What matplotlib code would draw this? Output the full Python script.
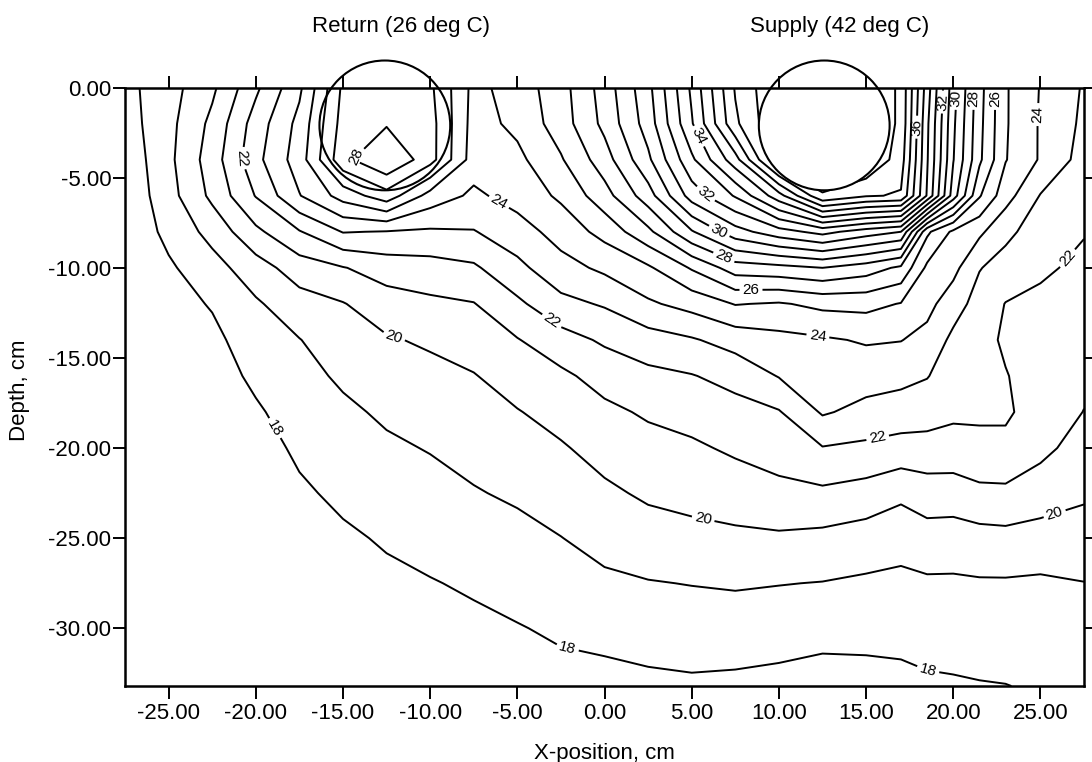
import matplotlib
matplotlib.use("Agg")
import matplotlib.pyplot as plt
import numpy as np
from matplotlib.patches import Ellipse
from matplotlib.ticker import FuncFormatter

# Measurement grid: horizontal position (cm) and depth (cm)
X_POS = [-27.5, -25, -22.5, -20, -17.5, -15, -12.5, -10, -7.5, -5, -2.5, 0,
         2.5, 5, 7.5, 10, 12.5, 15, 17, 18.5, 20, 21.5, 23, 25, 27.5]
DEPTH = [0, -2, -4, -6, -8, -10, -12, -14, -16, -18, -20, -22.5, -25, -27.5,
         -30, -33.2]

# Soil temperature (deg C), one row per depth
TEMP = [
    [17.7, 18.6, 19.8, 21.8, 23.8, 27.2, 27.4, 27.2, 24.7, 25.45, 26.6, 28.45, 30.7, 34.2, 38.1, 40, 40, 40, 38.8, 34.5, 30.4, 27.4, 25.1, 23.95, 22.9],
    [17.55, 18.7, 20.25, 22.45, 24.3, 27.4, 27.9, 27.4, 24.6, 25.24, 26.5, 28.27, 30.45, 33.9, 37.8, 40, 40, 40, 38.8, 34.2, 30.2, 27.3, 25.1, 23.9, 22.8],
    [17.3, 18.76, 20.5, 22.7, 24.5, 27.7, 29.0, 27.4, 24.5, 24.75, 25.9, 27.55, 29.8, 32.8, 35.6, 40, 40, 40, 38.5, 34.1, 30.05, 27.2, 25.05, 23.9, 22.6],
    [17.2, 18.62, 20.23, 22.05, 23.95, 25.4, 26.6, 24.6, 23.8, 24.4, 25.17, 26.6, 28.55, 31.45, 33.1, 35.6, 38.9, 38.1, 37.9, 33.9, 29.5, 26.1, 24.4, 22.95, 22.5],
    [17.2, 18.27, 19.33, 20.77, 21.93, 23.05, 22.95, 22.85, 22.95, 23.55, 24.4, 25.33, 26.75, 28.9, 30.6, 31.6, 32.33, 31.5, 31.0, 26.2, 24.8, 24.2, 23.25, 22.5, 22.05],
    [17.15, 17.85, 18.62, 19.55, 20.5, 20.95, 21.45, 21.6, 21.85, 22.75, 23.64, 24.2, 24.85, 26.1, 27.5, 27.7, 28.0, 27.5, 26.8, 24.8, 24.3, 23.05, 22.6, 22.15, 21.8],
    [17.1, 17.6, 18.08, 18.87, 19.58, 19.95, 20.55, 20.8, 20.96, 21.8, 22.72, 23.1, 23.85, 24.35, 25.05, 24.9, 25.25, 25.3, 24.95, 24.3, 23.45, 22.6, 21.97, 21.8, 21.6],
    [17.1, 17.45, 17.75, 18.53, 18.97, 19.56, 19.9, 20.15, 20.46, 20.95, 21.6, 22.15, 22.57, 22.9, 23.4, 23.7, 23.87, 24.1, 24.03, 23.7, 22.76, 22.35, 21.85, 21.6, 21.45],
    [17.1, 17.35, 17.55, 18.2, 18.7, 19.15, 19.54, 19.7, 19.95, 20.45, 20.8, 21.37, 21.75, 21.95, 22.33, 23.05, 23.49, 23.43, 23.3, 23.05, 22.47, 22.25, 22.05, 21.55, 21.2],
    [17.1, 17.3, 17.4, 17.87, 18.44, 18.82, 19.15, 19.4, 19.67, 19.95, 20.35, 20.78, 21.13, 21.35, 21.65, 21.93, 23.11, 22.7, 22.5, 22.4, 22.18, 22.12, 22.15, 21.55, 20.98],
    [17.1, 17.2, 17.3, 17.6, 18.17, 18.55, 18.85, 19.05, 19.32, 19.63, 19.9, 20.35, 20.66, 20.85, 21.15, 21.4, 21.95, 21.8, 21.65, 21.65, 21.62, 21.8, 21.75, 21.25, 20.6],
    [17.0, 17.15, 17.2, 17.4, 17.85, 18.2, 18.53, 18.68, 18.93, 19.15, 19.45, 19.82, 20.15, 20.3, 20.5, 20.75, 20.81, 20.6, 20.2, 20.5, 20.5, 20.75, 20.8, 20.5, 20.15],
    [17.0, 17.1, 17.1, 17.25, 17.6, 17.85, 18.1, 18.31, 18.52, 18.7, 18.98, 19.32, 19.57, 19.72, 19.8, 19.85, 19.75, 19.55, 19.4, 19.6, 19.55, 19.65, 19.7, 19.6, 19.55],
    [17.0, 17.05, 17.1, 17.15, 17.4, 17.6, 17.8, 17.95, 18.12, 18.34, 18.57, 18.82, 18.95, 19.03, 19.1, 19.03, 18.97, 18.85, 18.75, 18.85, 18.85, 18.9, 18.9, 18.85, 18.98],
    [17.0, 17.0, 17.0, 17.05, 17.25, 17.4, 17.5, 17.7, 17.8, 17.95, 18.14, 18.28, 18.4, 18.5, 18.5, 18.45, 18.35, 18.35, 18.35, 18.4, 18.4, 18.45, 18.5, 18.3, 18.45],
    [17.0, 17.0, 17.0, 17.0, 17.1, 17.2, 17.3, 17.45, 17.5, 17.6, 17.7, 17.7, 17.8, 17.85, 17.8, 17.7, 17.55, 17.6, 17.7, 17.85, 17.9, 17.95, 17.98, 18.1, 18.2],
]

# isotherms every degree, the even ones carry a value label
ODD_LEVELS = list(range(19, 40, 2))
EVEN_LEVELS = list(range(18, 40, 2))

PIPE_NAMES = ["Return (26 deg C)", "Supply (42 deg C)"]
PIPE_X = [-12.6, 12.6]
PIPE_DEPTH = -2.1

# where the isotherm values are written
LABEL_SPOTS = [
    (-19.1, -19.0), (-2.1, -31.0), (18.6, -32.0),
    (-12.1, -13.9), (5.6, -24.2), (25.9, -23.9),
    (-21.0, -3.9), (-3.0, -12.9), (15.7, -19.6), (26.0, -9.0),
    (-5.9, -6.1), (12.3, -13.3), (24.9, -1.5),
    (8.4, -11.3), (22.2, -0.6),
    (-14.2, -3.9), (6.8, -9.5), (21.2, -0.6),
    (6.5, -8.1), (20.2, -0.6),
    (5.7, -6.0), (19.3, -0.8),
    (5.3, -2.75), (18.0, -2.2),
]

plt.rcParams["font.family"] = ["Liberation Sans", "DejaVu Sans"]

fig = plt.figure(figsize=(10.92, 7.62), dpi=100)
ax = fig.add_axes([0.1145, 0.0997, 0.8782, 0.7854])

X, Z = np.meshgrid(X_POS, DEPTH)
T = np.array(TEMP)

ax.contour(X, Z, T, levels=ODD_LEVELS, colors="black", linewidths=1.4,
           zorder=2)
cs_even = ax.contour(X, Z, T, levels=EVEN_LEVELS, colors="black",
                     linewidths=1.4, zorder=2)
ax.clabel(cs_even, manual=LABEL_SPOTS, inline=True, inline_spacing=3,
          fmt="%d", fontsize=11)

# pipe cross-sections; the supply pipe hides the isotherms inside it
for name, px in zip(PIPE_NAMES, PIPE_X):
    face = "white" if name.startswith("Supply") else "none"
    ax.add_patch(Ellipse((px, PIPE_DEPTH), width=7.5, height=7.2,
                         facecolor=face, edgecolor="black", linewidth=1.5,
                         zorder=2.3, clip_on=False))
    ax.text(px + 0.9, 1.102, name, transform=ax.get_xaxis_transform(),
            ha="center", va="center", fontsize=16)

ax.set_xlim(-27.5, 27.5)
ax.set_ylim(-33.2, 0)
ax.set_xticks(np.arange(-25, 26, 5))
ax.set_yticks(np.arange(-30, 1, 5))
two_dec = FuncFormatter(lambda v, _: f"{v:.2f}")
ax.xaxis.set_major_formatter(two_dec)
ax.yaxis.set_major_formatter(two_dec)
ax.set_axisbelow(False)
ax.tick_params(direction="out", length=9, width=1.4, top=True, right=True,
               labeltop=False, labelright=False, labelsize=16)
ax.tick_params(axis="x", pad=3)
ax.tick_params(axis="y", pad=1)
for sp in ax.spines.values():
    sp.set_linewidth(1.8)

ax.set_xlabel("X-position, cm", fontsize=16)
ax.set_ylabel("Depth, cm", fontsize=16)
ax.xaxis.set_label_coords(0.5, -0.095)
ax.yaxis.set_label_coords(-0.099, 0.495)

fig.savefig("out.png", dpi=100)
